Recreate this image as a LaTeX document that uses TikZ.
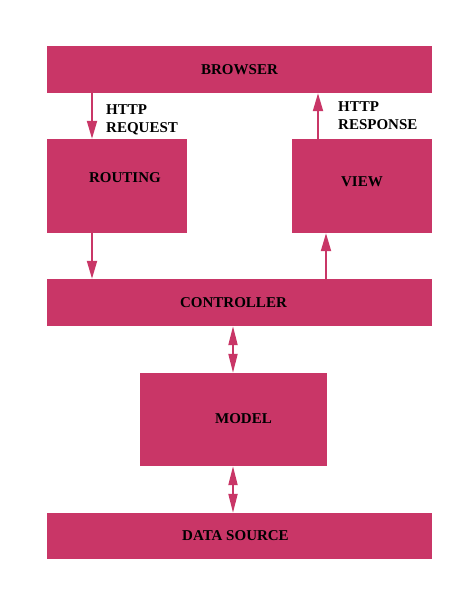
\documentclass[tikz,border=0pt]{standalone}
\usepackage{fontspec}
\setmainfont{Liberation Serif}
\usetikzlibrary{arrows.meta}
\definecolor{mvc}{RGB}{201,54,103}
\tikzset{
  box/.style={fill=mvc, draw=none, inner sep=0pt},
  lab/.style={font=\bfseries\fontsize{15}{18}\selectfont, text=black},
  arr/.style={draw=mvc, line width=2pt, -{Triangle[length=18pt,width=10pt]}},
  darr/.style={draw=mvc, line width=2pt, {Triangle[length=19pt,width=9pt]}-{Triangle[length=19pt,width=9pt]}},
  note/.style={font=\bfseries\fontsize{15}{18}\selectfont, text=black, align=left, inner sep=0pt, anchor=north west}
}
\begin{document}
\begin{tikzpicture}[x=1pt,y=-1pt]
\useasboundingbox (0,0) rectangle (474,592);
\node[box, minimum width=385pt, minimum height=47pt, label={[lab]center:BROWSER}] (browser) at (239.5,69.5) {};
\node[box, minimum width=140pt, minimum height=94pt, label={[lab, xshift=8pt, yshift=8pt]center:ROUTING}] (routing) at (117,186) {};
\node[box, minimum width=140pt, minimum height=94pt, label={[lab, yshift=4pt]center:VIEW}] (view) at (362,186) {};
\node[box, minimum width=385pt, minimum height=47pt, label={[lab, xshift=-6pt]center:CONTROLLER}] (controller) at (239.5,302.5) {};
\node[box, minimum width=187pt, minimum height=93pt, label={[lab, xshift=10pt, yshift=1pt]center:MODEL}] (model) at (233.5,419.5) {};
\node[box, minimum width=385pt, minimum height=46pt, label={[lab, xshift=-4pt]center:DATA SOURCE}] (data) at (239.5,536) {};

\coordinate (xa) at (92,0);
\coordinate (xb) at (318,0);
\coordinate (xc) at (326,0);
\coordinate (xd) at (233,0);

\draw[arr] (browser.south -| xa) -- (routing.north -| xa);
\draw[arr] (view.north -| xb) -- (browser.south -| xb);
\draw[arr] (routing.south -| xa) -- (controller.north -| xa);
\draw[arr] (controller.north -| xc) -- (view.south -| xc);
\draw[darr] (controller.south -| xd) -- (model.north -| xd);
\draw[darr] (model.south -| xd) -- (data.north -| xd);

\node[note] (req) at (106,104) {HTTP\\REQUEST};
\node[note] (resp) at (338,101) {HTTP\\RESPONSE};
\end{tikzpicture}
\end{document}
